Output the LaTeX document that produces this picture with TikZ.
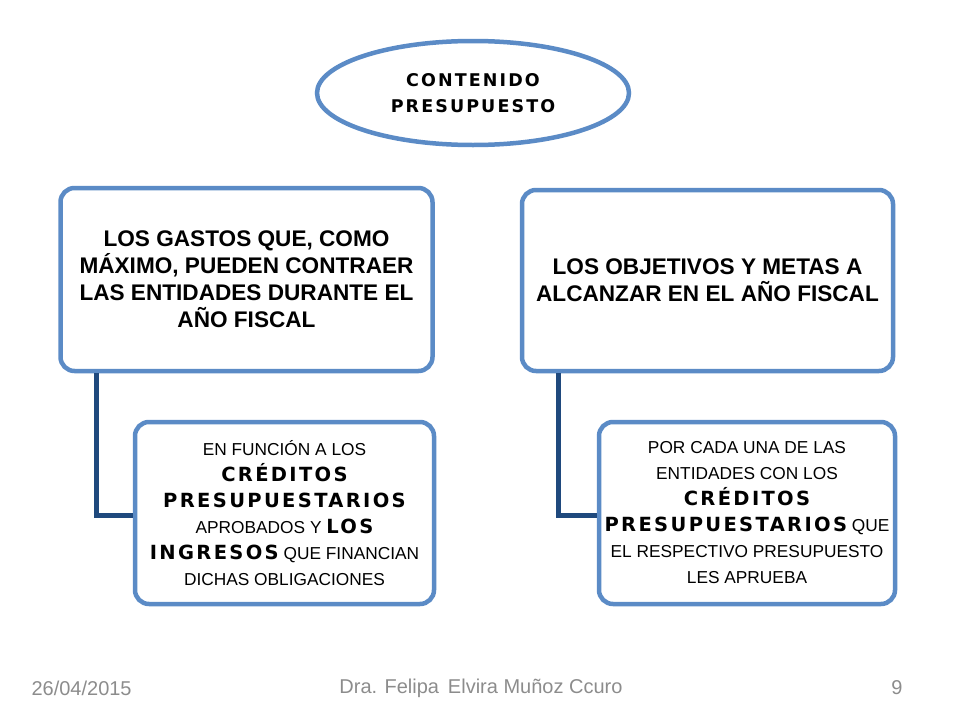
\documentclass[tikz,border=0pt]{standalone}
\usepackage{fontspec}
\setmainfont{Liberation Sans}
\newfontfamily\wideb[LetterSpace=12]{DejaVu Sans}
\usetikzlibrary{shapes.geometric}
\definecolor{boxblue}{HTML}{5B8BC6}
\definecolor{linkblue}{HTML}{1F497D}
\definecolor{footgray}{HTML}{8C8C8C}
\tikzset{
  mainbox/.style={draw=boxblue, line width=4.5pt, rounded corners=14pt, fill=white,
    align=center, font=\bfseries\fontsize{22.6}{27}\selectfont, inner sep=6pt},
  subbox/.style={draw=boxblue, line width=4.5pt, rounded corners=14pt, fill=white,
    align=center, font=\fontsize{17.3}{26}\selectfont, inner sep=4pt},
  link/.style={draw=linkblue, line width=5pt},
  foot/.style={text=footgray, font=\fontsize{20}{22}\selectfont}
}
\newcommand{\hb}[1]{{\wideb\bfseries\fontsize{19.5}{26}\selectfont #1}}
\begin{document}
\begin{tikzpicture}[x=1pt,y=-1pt]
\useasboundingbox (0,0) rectangle (960,720);
\node[draw=boxblue, line width=4.5pt, ellipse, minimum width=312pt, minimum height=104pt,
  align=center, font=\wideb\bfseries\fontsize{17.5}{26}\selectfont] (title) at (473,93) {CONTENIDO\\PRESUPUESTO};
% left branch
\node[mainbox, minimum width=372pt, minimum height=183pt] (gastos) at (246.5,279.5)
  {LOS GASTOS QUE, COMO\\MÁXIMO, PUEDEN CONTRAER\\LAS ENTIDADES DURANTE EL\\AÑO FISCAL};
\node[subbox, minimum width=299pt, minimum height=182pt] (creditos) at (284.5,513)
  {EN FUNCIÓN A LOS\\\hb{CRÉDITOS}\\\hb{PRESUPUESTARIOS}\\APROBADOS Y \hb{LOS}\\\hb{INGRESOS} QUE FINANCIAN\\DICHAS OBLIGACIONES};
% right branch
\node[mainbox, minimum width=371pt, minimum height=181pt] (metas) at (707.5,280.5)
  {LOS OBJETIVOS Y METAS A\\ALCANZAR EN EL AÑO FISCAL};
\node[subbox, minimum width=296pt, minimum height=182pt] (entidades) at (747,513)
  {POR CADA UNA DE LAS\\ENTIDADES CON LOS\\\hb{CRÉDITOS}\\\hb{PRESUPUESTARIOS} QUE\\EL RESPECTIVO PRESUPUESTO\\LES APRUEBA};
\draw[link] (96,373) |- (creditos.west |- 0,515);
\draw[link] (558,373) |- (entidades.west |- 0,515);
% footer
\node[foot, anchor=west] (fecha) at (28,688) {26/04/2015};
\node[foot] (autor) at (481,688) {Dra. Felipa\, Elvira Muñoz Ccuro};
\node[foot] (pagina) at (897,688) {9};
\end{tikzpicture}
\end{document}
